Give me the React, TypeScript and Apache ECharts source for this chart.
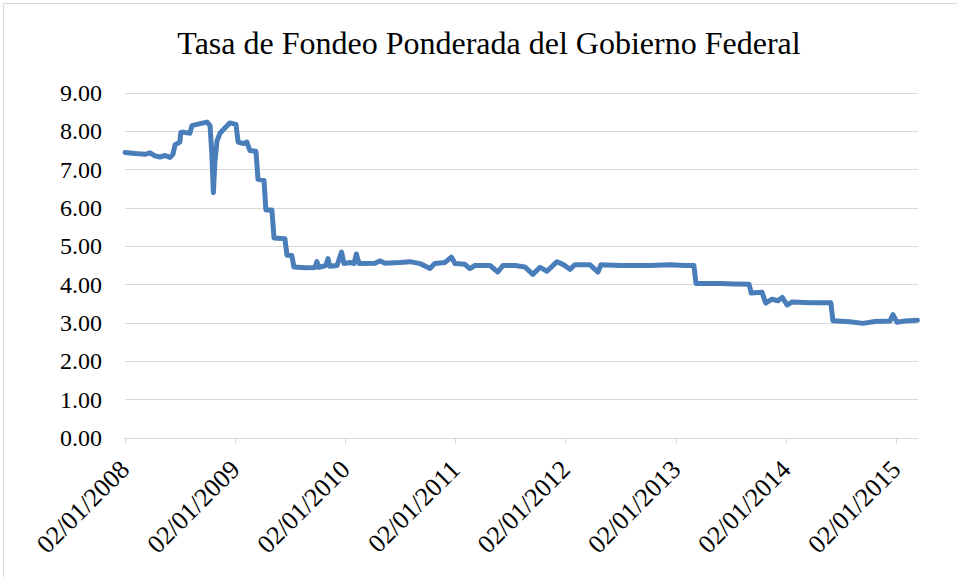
import React, { useEffect, useRef } from 'react';
import * as echarts from 'echarts';

const chartTitle = 'Tasa de Fondeo Ponderada del Gobierno Federal';

const dates = [
  '2008-01-02', '2008-02-04', '2008-03-08', '2008-03-25', '2008-04-10', '2008-04-27', '2008-05-14', '2008-05-30',
  '2008-06-09', '2008-06-16', '2008-07-02', '2008-07-05', '2008-07-12', '2008-08-04', '2008-08-11', '2008-09-07', '2008-09-30',
  '2008-10-10', '2008-10-16', '2008-10-21', '2008-10-26', '2008-11-02', '2008-11-12', '2008-12-02', '2008-12-15',
  '2009-01-04', '2009-01-11', '2009-01-30', '2009-02-09', '2009-02-19', '2009-03-11', '2009-03-18', '2009-04-07',
  '2009-04-13', '2009-05-03', '2009-05-10', '2009-06-15', '2009-06-22', '2009-07-08', '2009-07-15', '2009-08-21',
  '2009-09-23', '2009-09-29', '2009-10-06', '2009-10-29', '2009-11-05', '2009-11-11', '2009-12-05', '2009-12-20',
  '2009-12-28', '2010-01-17', '2010-01-30', '2010-02-07', '2010-02-16', '2010-04-10', '2010-04-26', '2010-05-13',
  '2010-07-01', '2010-08-04', '2010-09-06', '2010-10-09', '2010-10-25', '2010-11-28', '2010-12-19', '2010-12-31',
  '2011-02-02', '2011-02-18', '2011-03-07', '2011-04-26', '2011-05-22', '2011-06-08', '2011-07-18', '2011-08-20',
  '2011-09-15', '2011-10-09', '2011-11-01', '2011-12-04', '2011-12-24', '2012-01-16', '2012-02-02', '2012-03-22',
  '2012-04-18', '2012-04-28', '2012-06-30', '2012-10-07', '2012-12-12', '2013-01-31', '2013-03-02', '2013-03-09',
  '2013-05-27', '2013-07-16', '2013-09-01', '2013-09-08', '2013-10-14', '2013-10-26', '2013-11-16', '2013-12-06',
  '2013-12-20', '2014-01-05', '2014-01-22', '2014-03-21', '2014-05-30', '2014-06-06', '2014-08-01', '2014-09-13',
  '2014-10-23', '2014-12-12', '2014-12-22', '2015-01-04', '2015-01-30', '2015-03-13',
];

const rates = [
  7.45, 7.42, 7.40, 7.44, 7.36, 7.33, 7.37, 7.32,
  7.40, 7.65, 7.72, 7.97, 7.98, 7.95, 8.15, 8.20, 8.24,
  8.15, 7.40, 6.40, 7.20, 7.75, 7.95, 8.12, 8.22,
  8.18, 7.72, 7.68, 7.72, 7.50, 7.48, 6.75, 6.72,
  5.95, 5.95, 5.22, 5.20, 4.77, 4.76, 4.46, 4.44,
  4.45, 4.60, 4.45, 4.50, 4.68, 4.48, 4.50, 4.85,
  4.55, 4.58, 4.55, 4.80, 4.55, 4.56, 4.62, 4.56,
  4.58, 4.60, 4.55, 4.42, 4.55, 4.58, 4.72, 4.55,
  4.53, 4.42, 4.50, 4.50, 4.33, 4.50, 4.50, 4.46,
  4.27, 4.45, 4.35, 4.60, 4.53, 4.40, 4.52, 4.52,
  4.33, 4.52, 4.50, 4.50, 4.52, 4.50, 4.50, 4.03,
  4.03, 4.02, 4.01, 3.78, 3.80, 3.52, 3.62, 3.58,
  3.67, 3.47, 3.55, 3.53, 3.53, 3.06, 3.03, 2.99,
  3.04, 3.05, 3.22, 3.02, 3.05, 3.07,
];

const tickDates = ['2008-01-02', '2009-01-02', '2010-01-02', '2011-01-02', '2012-01-02', '2013-01-02', '2014-01-02', '2015-01-02'];
const tickLabels = ['02/01/2008', '02/01/2009', '02/01/2010', '02/01/2011', '02/01/2012', '02/01/2013', '02/01/2014', '02/01/2015'];
const axisStartDate = '2008-01-02';
const axisEndDate = '2015-03-15';
const yMin = 0;
const yMax = 9;
const yStep = 1;

const DAY = 86400000;
const toDay = (s: string) => {
  const [y, m, d] = s.split('-').map(Number);
  const [y0, m0, d0] = axisStartDate.split('-').map(Number);
  return Math.round((Date.UTC(y, m - 1, d) - Date.UTC(y0, m0 - 1, d0)) / DAY);
};

const FONT = '"Liberation Serif", serif';

export default function App() {
  const ref = useRef<HTMLDivElement>(null);
  useEffect(() => {
    if (!ref.current) return;
    const chart = echarts.init(ref.current, null, { renderer: 'svg' });
    const tickDays = tickDates.map(toDay);
    const seriesData = dates.map((d, i) => [toDay(d), rates[i]]);
    const labelFor = (v: number) => {
      let best = -1;
      let bestDiff = Infinity;
      tickDays.forEach((t, i) => {
        const diff = Math.abs(t - v);
        if (diff < bestDiff) { bestDiff = diff; best = i; }
      });
      return bestDiff < 3 ? tickLabels[best] : '';
    };
    chart.setOption({
      animation: false,
      backgroundColor: '#ffffff',
      graphic: [
        {
          type: 'rect',
          shape: { x: 3.5, y: 3.5, width: 1200, height: 1200 },
          style: { fill: 'none', stroke: '#d9d9d9', lineWidth: 1 },
          silent: true,
        },
        {
          type: 'text',
          x: 489,
          y: 43,
          style: {
            text: chartTitle,
            font: `32px ${FONT}`,
            fill: '#000000',
            textAlign: 'center',
            textVerticalAlign: 'middle',
          },
        },
      ],
      grid: { left: 125, right: 39, top: 93, bottom: 139, containLabel: false },
      xAxis: {
        type: 'value',
        min: 0,
        max: toDay(axisEndDate),
        interval: 365.25,
        axisLine: { show: true, lineStyle: { color: '#d9d9d9', width: 1 } },
        axisTick: { show: true, inside: false, length: 6, lineStyle: { color: '#d9d9d9' }, customValues: tickDays },
        axisLabel: {
          customValues: tickDays,
          rotate: 45,
          margin: 27,
          color: '#000000',
          fontFamily: FONT,
          fontSize: 26,
          formatter: (v: number) => labelFor(v),
        },
        splitLine: { show: false },
      },
      yAxis: {
        type: 'value',
        min: yMin,
        max: yMax,
        interval: yStep,
        axisLine: { show: false },
        axisTick: { show: false },
        axisLabel: {
          margin: 23,
          color: '#000000',
          fontFamily: FONT,
          fontSize: 24,
          formatter: (v: number) => v.toFixed(2),
        },
        splitLine: { show: true, lineStyle: { color: '#d9d9d9', width: 1 } },
      },
      series: [
        {
          type: 'line',
          data: seriesData,
          showSymbol: false,
          symbol: 'none',
          lineStyle: { color: '#4a7ebb', width: 5, join: 'round', cap: 'round' },
          itemStyle: { color: '#4a7ebb' },
        },
      ],
    });
    return () => chart.dispose();
  }, []);
  return <div ref={ref} style={{ position: 'fixed', left: 0, top: 0, width: 957, height: 577 }} />;
}
